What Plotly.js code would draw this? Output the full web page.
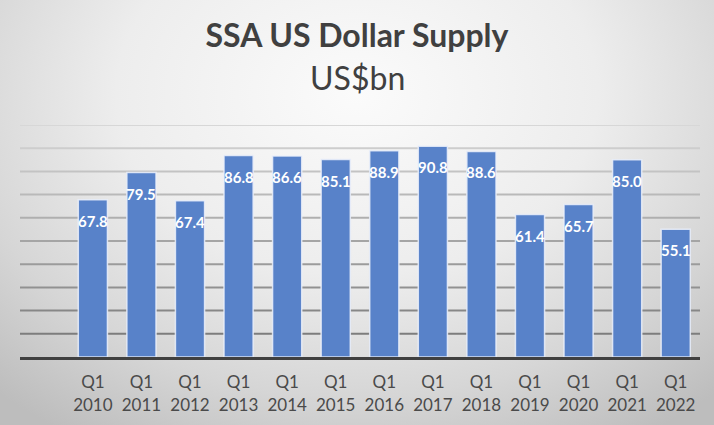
<!DOCTYPE html>
<html>
<head>
<meta charset="utf-8">
<script src="https://cdn.plot.ly/plotly-3.0.1.min.js"></script>
<style>
  html, body { margin: 0; padding: 0; }
  body {
    width: 714px; height: 425px; overflow: hidden;
    background: radial-gradient(ellipse 75% 95% at 50% 22%, #fbfbfb 0%, #ededed 45%, #d6d6d6 75%, #bdbdbd 100%);
  }
  #chart { width: 714px; height: 425px; }
</style>
</head>
<body>
<div id="chart"></div>
<script>
const quarters = ["Q1","Q1","Q1","Q1","Q1","Q1","Q1","Q1","Q1","Q1","Q1","Q1","Q1"];
const years = ["2010","2011","2012","2013","2014","2015","2016","2017","2018","2019","2020","2021","2022"];
const supply = [67.8, 79.5, 67.4, 86.8, 86.6, 85.1, 88.9, 90.8, 88.6, 61.4, 65.7, 85.0, 55.1];
const gridValues = [10, 20, 30, 40, 50, 60, 70, 80, 90, 100];

const categories = years.map((y, i) => quarters[i] + "<br>" + y);

const trace = {
  type: "bar",
  x: categories,
  y: supply,
  marker: {
    color: "#5882c9",
    line: { color: "rgba(235,240,250,0.85)", width: 1.5 }
  },
  hoverinfo: "x+y"
};

const labelAnnotations = supply.map((v, i) => ({
  x: categories[i], y: v, xref: "x", yref: "y",
  text: "<b>" + v.toFixed(1) + "</b>",
  showarrow: false, yanchor: "middle", yshift: -21,
  font: { family: "Lato, 'Open Sans', sans-serif", size: 15, color: "#ffffff" }
}));

const gridShapes = gridValues.map((g, i) => {
  const t = i / (gridValues.length - 1);
  const c = Math.round(125 + t * (215 - 125));
  return {
    type: "line", xref: "paper", yref: "y", x0: 0, x1: 1, y0: g, y1: g,
    line: { color: `rgb(${c},${c},${c})`, width: 2 }, layer: "below"
  };
});

const layout = {
  width: 714, height: 425,
  paper_bgcolor: "rgba(0,0,0,0)",
  plot_bgcolor: "rgba(0,0,0,0)",
  margin: { l: 20, r: 14, t: 125, b: 68 },
  showlegend: false,
  bargap: 0.4,
  title: {
    text: "<b>SSA US Dollar Supply</b>",
    x: 357 / 714, xanchor: "center",
    y: 1 - 36 / 425, yanchor: "middle", yref: "container",
    font: { family: "Lato, 'Open Sans', sans-serif", size: 32, color: "#404040" }
  },
  annotations: [
    {
      text: "US$bn", xref: "paper", yref: "paper", x: (357 - 20) / 680, y: (357 - 77) / 232,
      xanchor: "center", yanchor: "middle", showarrow: false,
      font: { family: "Lato, 'Open Sans', sans-serif", size: 32, color: "#404040" }
    }
  ].concat(labelAnnotations),
  shapes: gridShapes,
  xaxis: {
    type: "category",
    range: [-1.5, 12.5],
    showgrid: false,
    showline: true, linecolor: "#404040", linewidth: 3,
    ticks: "",
    ticklabelstandoff: 8,
    tickfont: { family: "Lato, 'Open Sans', sans-serif", size: 17, color: "#4a4a4a" },
    fixedrange: true
  },
  yaxis: {
    range: [0, 100],
    showgrid: false, zeroline: false,
    showticklabels: false, ticks: "",
    fixedrange: true
  }
};

Plotly.newPlot("chart", [trace], layout, { displayModeBar: false, staticPlot: true });
</script>
</body>
</html>
